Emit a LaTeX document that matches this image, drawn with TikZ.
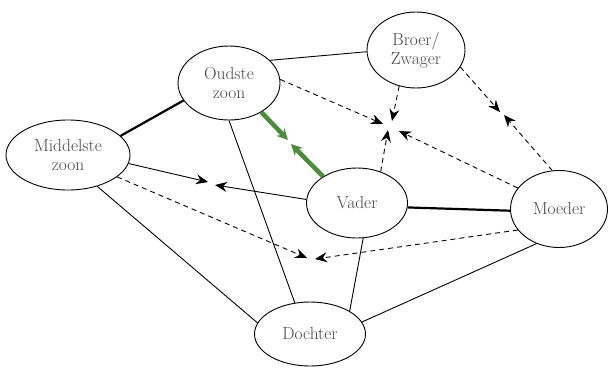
\documentclass[tikz,border=0pt]{standalone}
\usetikzlibrary{shapes.geometric,arrows.meta}
\definecolor{txt}{RGB}{70,70,70}
\definecolor{grn}{RGB}{76,140,60}
\begin{document}
\begin{tikzpicture}[x=1bp,y=-1bp,
  ell/.style={ellipse,draw,line width=0.9bp,inner sep=0pt,align=center,
    text=txt,font=\fontsize{17.5}{19}\selectfont},
  thin/.style={line width=0.9bp},
  thick2/.style={line width=2.2bp},
  arr/.style={line width=0.9bp,-{Stealth[length=12bp,width=10bp,inset=4bp]}},
  darr/.style={arr,dash pattern=on 5bp off 4bp},
  garr/.style={line width=4.5bp,grn,-{Stealth[length=11bp,width=11bp,inset=3.5bp]}}]
\useasboundingbox (0,0) rectangle (609,367);
\node[ell,minimum width=102bp,minimum height=74bp] (O) at (229,83) {Oudste\\zoon};
\node[ell,minimum width=98bp,minimum height=76bp] (B) at (416,50) {Broer/\\Zwager};
\node[ell,minimum width=124bp,minimum height=70bp] (M) at (68,155) {Middelste\\zoon};
\node[ell,minimum width=101bp,minimum height=70bp] (V) at (357,203) {Vader};
\node[ell,minimum width=97bp,minimum height=77bp] (Mo) at (559,209) {Moeder};
\node[ell,minimum width=111bp,minimum height=64bp] (D) at (310,334) {Dochter};
% free ends
\coordinate (g1) at (288,140);
\coordinate (g2) at (291,144);
\coordinate (t1) at (208,182);
\coordinate (t2) at (215,185);
\coordinate (t3) at (307,258);
\coordinate (t4) at (315,259);
\coordinate (t5) at (383,124);
\coordinate (t6) at (392,121);
\coordinate (t7) at (388,130);
\coordinate (t8) at (399,131);
\coordinate (t9) at (500,112);
\coordinate (t10) at (504,115);
% solid links
\draw[thin] (O.29) -- (B.182);
\draw[thick2] (O.201) -- (M.20);
\draw[thin] (O.-90) -- (D.116);
\draw[thin] (M.-47) -- (D.168);
\draw[thin] (V.-80) -- (D.30);
\draw[thin] (Mo.237) -- (D.13);
\draw[thick2] (V.-5) -- (Mo.182);
% green
\draw[garr] (O.-42) -- (g1);
\draw[garr] (V.142) -- (g2);
% solid arrows
\draw[arr] (M.-8) -- (t1);
\draw[arr] (V.176) -- (t2);
% dashed arrows
\draw[darr] (M.-24) -- (t3);
\draw[darr] (Mo.207) -- (t4);
\draw[darr] (O.4) -- (t5);
\draw[darr] (B.245) -- (t6);
\draw[darr] (V.53) -- (t7);
\draw[darr] (Mo.153) -- (t8);
\draw[darr] (B.-21) -- (t9);
\draw[darr] (Mo.100) -- (t10);
\end{tikzpicture}
\end{document}
